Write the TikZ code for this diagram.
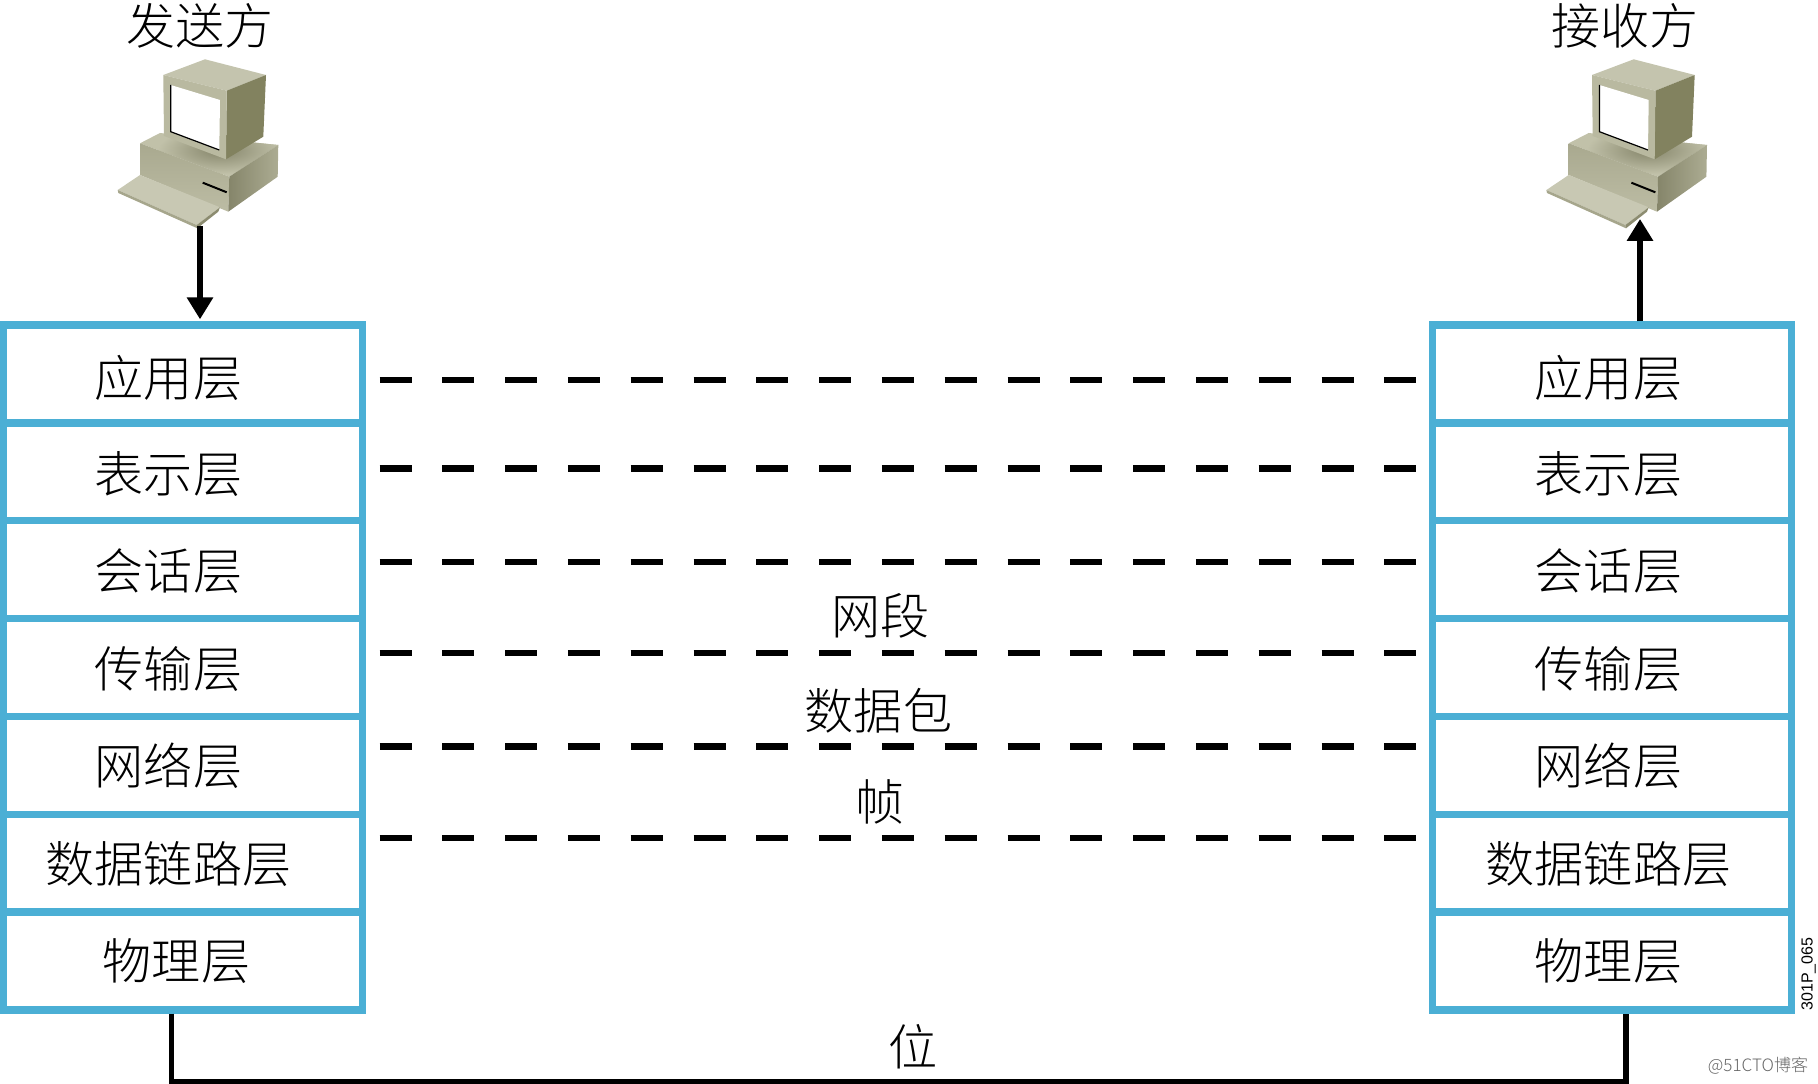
\documentclass[tikz,border=0pt]{standalone}
\usepackage{fontspec}
\usetikzlibrary{arrows.meta}
\newfontfamily\cjkfont{Noto Sans CJK SC Light}
\newfontfamily\tagfont{Liberation Sans}
\definecolor{layerblue}{RGB}{75,175,213}
\definecolor{pcbasetop}{HTML}{C1C1A9}
\definecolor{pcshadow}{HTML}{85856A}
\definecolor{pcfronttop}{HTML}{A9A98F}
\definecolor{pcfrontlow}{HTML}{BCBCA4}
\definecolor{pcsideright}{HTML}{ACAC92}
\definecolor{pctop}{HTML}{C4C4AE}
\definecolor{pcside}{HTML}{82825F}
\definecolor{pcfront}{HTML}{B9B9A0}
\definecolor{pckeys}{HTML}{C8C8B3}
\definecolor{pclip}{HTML}{A6A68C}
\definecolor{pcedge}{HTML}{8C8C70}
\tikzset{
	layerbox/.style={draw=layerblue,line width=5.5pt,fill=white,minimum width=269.1pt,minimum height=73.4pt,inner sep=0pt},
	layertext/.style={font=\cjkfont\fontsize{36.8}{37}\selectfont,inner sep=0pt,text height=32.4pt,text depth=4.4pt},
	peerline/.style={line width=4.6pt,dash pattern=on 24pt off 23.1pt},
	wire/.style={line width=4pt},
	wirearrow/.style={line width=4pt,-{Triangle[length=16.5pt,width=19pt]}},
}
\newcommand{\drawpc}[1]{
	\begin{scope}[shift={(#1,0)}]
	%Shape: Base top
	\fill [pcbasetop] (140,143.3) -- (160,133) -- (278.3,145) -- (229.3,176.7) -- cycle ;
	\begin{scope}
	\clip (140,143.3) -- (160,133) -- (278.3,145) -- (229.3,176.7) -- cycle ;
	\shade [inner color=pcshadow,outer color=pcbasetop] (220,150) ellipse (62 and 24);
	\end{scope}
	%Shape: Base front
	\shade [top color=pcfronttop,bottom color=pcfrontlow] (140,143.3) -- (229.3,176.7) -- (228.3,211.7) -- (140,175) -- cycle ;
	%Shape: Base side
	\shade [left color=pcshadow,right color=pcsideright] (229.3,176.7) -- (278.3,145) -- (277.7,176.7) -- (228.3,211.7) -- cycle ;
	%Shape: Monitor top
	\fill [pctop] (163.3,75) -- (205,59.3) -- (266,75) -- (226.7,90.7) -- cycle ;
	%Shape: Monitor side
	\fill [pcside] (226.7,90.7) -- (266,75) -- (263.3,136.7) -- (226,159.3) -- cycle ;
	%Shape: Monitor front
	\fill [pcfront] (163.3,75) -- (226.7,90.7) -- (226,159.3) -- (164,136) -- cycle ;
	%Shape: Screen
	\fill [white] (170.7,85) -- (220,100) -- (219.3,150) -- (170.7,131.7) -- cycle ;
	\draw [black,line width=0.9pt] (170.7,85) -- (170.7,131.7) -- (219.3,150) ;
	%Shape: Keyboard
	\fill [pckeys] (117.7,190) -- (140,175) -- (220,207.3) -- (196.7,225) -- cycle ;
	\fill [pclip] (117.7,190) -- (196.7,225) -- (197.3,228.3) -- (118.3,193) -- cycle ;
	\fill [pcedge] (196.7,225) -- (220,207.3) -- (218.3,211.7) -- (197.3,228.3) -- cycle ;
	%Straight Lines: Slot
	\draw [black,line width=1.5pt] (202.7,182.7) -- (226.7,192.3) ;
	\end{scope}
}
\begin{document}
\begin{tikzpicture}[x=0.75pt,y=0.75pt,yscale=-1,xscale=1]
	\useasboundingbox (0,0) rectangle (1818,1084);

	%Shape: Computers
	\drawpc{0}
	\drawpc{1428.7}

	%Layer boxes, sender
	\draw (183,373.9) node (appL) [layerbox] {};
	\draw (183,471.8) node (preL) [layerbox] {};
	\draw (183,569.7) node (sesL) [layerbox] {};
	\draw (183,667.5) node (traL) [layerbox] {};
	\draw (183,765.4) node (netL) [layerbox] {};
	\draw (183,863.2) node (linL) [layerbox] {};
	\draw (183,961.1) node (phyL) [layerbox] {};
	%Layer boxes, receiver
	\draw (1612.2,373.9) node (appR) [layerbox] {};
	\draw (1612.2,471.8) node (preR) [layerbox] {};
	\draw (1612.2,569.7) node (sesR) [layerbox] {};
	\draw (1612.2,667.5) node (traR) [layerbox] {};
	\draw (1612.2,765.4) node (netR) [layerbox] {};
	\draw (1612.2,863.2) node (linR) [layerbox] {};
	\draw (1612.2,961.1) node (phyR) [layerbox] {};

	%Straight Lines: peer links
	\coordinate (peerAL) at (379.5,380);   \coordinate (peerAR) at (1417,380);
	\coordinate (peerBL) at (379.5,468.5); \coordinate (peerBR) at (1417,468.5);
	\coordinate (peerCL) at (379.5,562);   \coordinate (peerCR) at (1417,562);
	\coordinate (peerDL) at (379.5,652.7); \coordinate (peerDR) at (1417,652.7);
	\coordinate (peerEL) at (379.5,746.5); \coordinate (peerER) at (1417,746.5);
	\coordinate (peerFL) at (379.5,837.7); \coordinate (peerFR) at (1417,837.7);
	\draw [peerline] (peerAL) -- (peerAR) ;
	\draw [peerline] (peerBL) -- (peerBR) ;
	\draw [peerline] (peerCL) -- (peerCR) ;
	\draw [peerline] (peerDL) -- (peerDR) ;
	\draw [peerline] (peerEL) -- (peerER) ;
	\draw [peerline] (peerFL) -- (peerFR) ;

	%Straight Lines: arrows at the computers
	\coordinate (sendFoot) at (200,226);
	\coordinate (recvFoot) at (1640,219);
	\draw [wirearrow,shorten >=1.5pt] (sendFoot) -- (sendFoot |- appL.north) ;
	\draw [wirearrow] (recvFoot |- appR.north) -- (recvFoot) ;

	%Straight Lines: physical link
	\coordinate (busL) at (171.7,1081.5);
	\coordinate (busR) at (1626,1081.5);
	\draw [wire] (busL |- phyL.south) -- (busL) -- (busR) -- (busR |- phyR.south) ;

	% Text Node
	\draw (200,25.5) node (sendText) [layertext] {发送方};
	\draw (1625,25.5) node (recvText) [layertext] {接收方};
	% Text Node
	\draw (168.5,378) node (appLText) [layertext] {应用层};
	\draw (168.5,474) node (preLText) [layertext] {表示层};
	\draw (168.5,571) node (sesLText) [layertext] {会话层};
	\draw (168.5,669) node (traLText) [layertext] {传输层};
	\draw (168.5,766) node (netLText) [layertext] {网络层};
	\draw (168.5,864) node (linLText) [layertext] {数据链路层};
	\draw (176.5,961) node (phyLText) [layertext] {物理层};
	% Text Node
	\draw (1608.5,378) node (appRText) [layertext] {应用层};
	\draw (1608.5,474) node (preRText) [layertext] {表示层};
	\draw (1608.5,571) node (sesRText) [layertext] {会话层};
	\draw (1608.5,669) node (traRText) [layertext] {传输层};
	\draw (1608.5,766) node (netRText) [layertext] {网络层};
	\draw (1608.5,864) node (linRText) [layertext] {数据链路层};
	\draw (1608.5,961) node (phyRText) [layertext] {物理层};
	% Text Node
	\draw (880.5,616) node (segText) [layertext] {网段};
	\draw (878.5,711) node (pktText) [layertext] {数据包};
	\draw (880.5,802) node (frmText) [layertext] {帧};
	\draw (913.5,1047) node (bitText) [layertext] {位};
	% Text Node
	\draw (1808.5,974) node (tagText) [rotate=90,inner sep=0pt,font=\tagfont\fontsize{12}{12}\selectfont] {301P\_065};
	\draw (1758,1066) node (markText) [inner sep=0pt,text=black!60,font=\cjkfont\fontsize{12.8}{13}\selectfont] {@51CTO博客};
\end{tikzpicture}
\end{document}
